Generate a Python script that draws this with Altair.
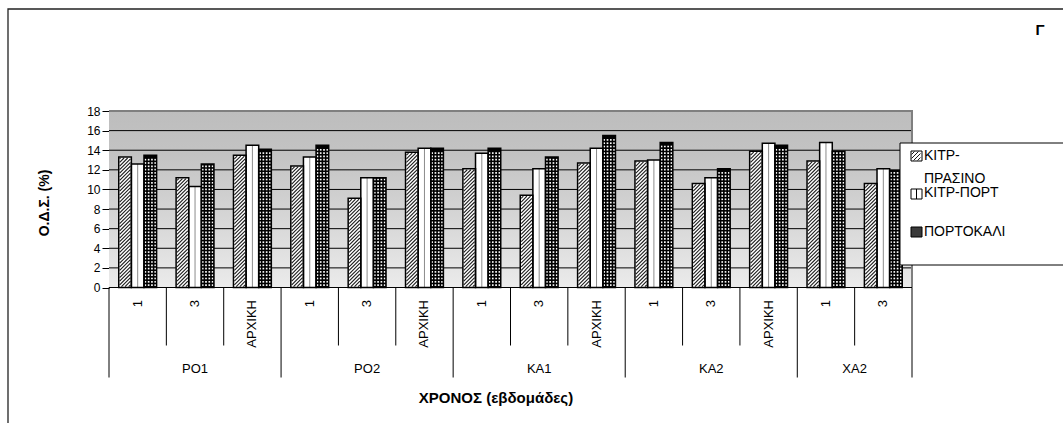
import altair as alt
import numpy as np
import pandas as pd

# ---------------- data ----------------
groups = ["ΡΟ1", "ΡΟ2", "ΚΑ1", "ΚΑ2", "ΧΑ2"]
weeks = [
    ["1", "3", "ΑΡΧΙΚΗ"],
    ["1", "3", "ΑΡΧΙΚΗ"],
    ["1", "3", "ΑΡΧΙΚΗ"],
    ["1", "3", "ΑΡΧΙΚΗ"],
    ["1", "3"],
]
series = ["ΚΙΤΡ-ΠΡΑΣΙΝΟ", "ΚΙΤΡ-ΠΟΡΤ", "ΠΟΡΤΟΚΑΛΙ"]
kitr_prasino = [13.3, 11.2, 13.5, 12.4, 9.1, 13.8, 12.1, 9.4, 12.7, 12.9, 10.6, 13.9, 12.9, 10.6]
kitr_port = [12.6, 10.3, 14.5, 13.3, 11.2, 14.2, 13.7, 12.1, 14.2, 13.0, 11.2, 14.7, 14.8, 12.1]
portokali = [13.5, 12.6, 14.1, 14.5, 11.2, 14.2, 14.2, 13.3, 15.5, 14.8, 12.1, 14.5, 13.9, 11.9]
y_ticks = [0, 2, 4, 6, 8, 10, 12, 14, 16, 18]
y_title = "Ο.Δ.Σ. (%)"
x_title = "ΧΡΟΝΟΣ (εβδομάδες)"
panel_tag = "Γ"

# ---------------- layout ----------------
W, H = 803, 176.5
PAD = {"left": 109, "top": 111, "right": 151, "bottom": 135.5}
N = sum(len(w) for w in weeks)
SX = W / N               # pixels per category slot
SY = H / max(y_ticks)    # pixels per y unit
BAR_W = 0.22             # bar width in slot units
FONT = "Liberation Sans"

x_scale = alt.Scale(domain=[0, N], nice=False, zero=False)
y_scale = alt.Scale(domain=[0, max(y_ticks)], nice=False)
y_axis = alt.Axis(
    values=y_ticks, grid=False, title=None,
    domainColor="#000000", domainWidth=1,
    tickColor="#000000", tickSize=7, tickWidth=1,
    labelPadding=2, labelFontSize=12, labelColor="#000000", labelFont=FONT,
)


def xq(field):
    return alt.X(field, type="quantitative", scale=x_scale, axis=None)


def yq(field):
    return alt.Y(field, type="quantitative", scale=y_scale, axis=y_axis)


# bars table
rows = []
for s, (name, vals) in enumerate(zip(series, [kitr_prasino, kitr_port, portokali])):
    for i, v in enumerate(vals):
        xa = i + 0.5 + (s - 1.5) * BAR_W
        rows.append({"series": name, "slot": i, "value": v,
                     "xa": xa, "xb": xa + BAR_W, "xc": xa + BAR_W / 2})
bars = pd.DataFrame(rows)


# diagonal hatching inside each bar of the first series
def hatch(xa, xb, v, step=3.6, inset=0.9):
    w = (xb - xa) * SX - 2 * inset
    h = v * SY - 2 * inset
    out = []
    c = -w + step / 2
    while c < h:
        xs, xe = max(0.0, -c), min(w, h - c)
        if xe > xs:
            out.append({
                "x1": xa + (inset + xs) / SX, "y1": (inset + xs + c) / SY,
                "x2": xa + (inset + xe) / SX, "y2": (inset + xe + c) / SY,
            })
        c += step
    return out


# small white cells of the checked pattern of the third series
def checker(xa, xb, v, step=3.3):
    w = (xb - xa) * SX
    h = v * SY
    ncol = int((w - 2.5) // step) + 1
    x0 = (w - (ncol - 1) * step) / 2
    out = []
    yy = 2.4
    while yy < h - 1.6:
        for k in range(ncol):
            out.append({"cx": xa + (x0 + k * step) / SX, "cy": yy / SY})
        yy += step
    return out


hatch_rows, cell_rows = [], []
for r in bars.itertuples():
    if r.series == series[0]:
        hatch_rows += hatch(r.xa, r.xb, r.value)
    elif r.series == series[2]:
        cell_rows += checker(r.xa, r.xb, r.value)
hatch_df = pd.DataFrame(hatch_rows)
cell_df = pd.DataFrame(cell_rows)

# category axis tables
cats = [t for ws in weeks for t in ws]
cat_df = pd.DataFrame({"x": np.arange(N) + 0.5, "label": cats})
bounds = np.cumsum([0] + [len(ws) for ws in weeks])
big_df = pd.DataFrame({"x": bounds})
small_df = pd.DataFrame({"x": [b for b in range(1, N) if b not in set(bounds)]})
grp_df = pd.DataFrame({"group": groups, "x": (bounds[:-1] + bounds[1:]) / 2})
grid_df = pd.DataFrame({"v": y_ticks})
one = pd.DataFrame({"k": [0]})

# ---------------- layers ----------------
plot_bg = alt.Chart(one).mark_rect(
    fill=alt.LinearGradient(
        gradient="linear", x1=0, y1=0, x2=0, y2=1,
        stops=[alt.GradientStop(offset=0, color="#bdbdbd"),
               alt.GradientStop(offset=0.25, color="#c3c3c3"),
               alt.GradientStop(offset=1, color="#ebebeb")],
    )
).encode(x=alt.value(0), x2=alt.value(W), y=alt.value(0), y2=alt.value(H))

grid = alt.Chart(grid_df).mark_rule(color="#000000", strokeWidth=1).encode(
    y=yq("v"), x=alt.value(0), x2=alt.value(W),
)

frame_top = alt.Chart(one).mark_rule(color="#7f7f7f", strokeWidth=2).encode(
    x=alt.value(0), x2=alt.value(W + 1), y=alt.value(0))
frame_right = alt.Chart(one).mark_rule(color="#7f7f7f", strokeWidth=2).encode(
    x=alt.value(W), y=alt.value(0), y2=alt.value(H))

bar_fill = alt.Chart(bars).mark_rect(strokeWidth=0).encode(
    x=xq("xa"), x2="xb", y=yq("value"), y2=alt.datum(0),
    fill=alt.Fill("series:N", scale=alt.Scale(domain=series, range=["#ffffff", "#ffffff", "#000000"]),
                  legend=None),
)

hatch_lines = alt.Chart(hatch_df).mark_rule(color="#1c1c1c", strokeWidth=1.1).encode(
    x=xq("x1"), y=yq("y1"), x2="x2", y2="y2")

mid_lines = alt.Chart(bars).transform_filter(
    alt.datum.series == series[1]
).mark_rule(color="#8c8c8c", strokeWidth=1).encode(
    x=xq("xc"), y=yq("value"), y2=alt.datum(0))

cells = alt.Chart(cell_df).mark_square(size=2.8, color="#ffffff", opacity=1, strokeWidth=0).encode(
    x=xq("cx"), y=yq("cy"))

bar_outline = alt.Chart(bars).mark_rect(fillOpacity=0, stroke="#000000", strokeWidth=1.5).encode(
    x=xq("xa"), x2="xb", y=yq("value"), y2=alt.datum(0))

baseline = alt.Chart(one).mark_rule(color="#000000", strokeWidth=1).encode(
    x=alt.value(0), x2=alt.value(W), y=alt.value(H))

big_sep = alt.Chart(big_df).mark_rule(color="#000000", strokeWidth=1).encode(
    x=xq("x"), y=alt.value(H), y2=alt.value(H + 90))
small_sep = alt.Chart(small_df).mark_rule(color="#000000", strokeWidth=1).encode(
    x=xq("x"), y=alt.value(H), y2=alt.value(H + 58))

cat_labels = alt.Chart(cat_df).mark_text(
    angle=270, align="right", baseline="middle", fontSize=13, font=FONT, color="#000000"
).encode(x=xq("x"), y=alt.value(H + 12.5), text="label:N")

grp_labels = alt.Chart(grp_df).mark_text(
    align="center", baseline="middle", fontSize=13, font=FONT, color="#000000"
).encode(x=xq("x"), y=alt.value(H + 81), text="group:N")

x_title_mark = alt.Chart(one).mark_text(
    text=x_title, align="center", baseline="middle", fontSize=15, fontWeight="bold",
    font=FONT, color="#000000"
).encode(x=alt.value(387), y=alt.value(H + 110))

y_title_mark = alt.Chart(one).mark_text(
    text=y_title, angle=270, align="center", baseline="middle", fontSize=14,
    fontWeight="bold", font=FONT, color="#000000"
).encode(x=alt.value(-64), y=alt.value(92))

tag_mark = alt.Chart(one).mark_text(
    text=panel_tag, align="center", baseline="middle", fontSize=15, fontWeight="bold",
    font=FONT, color="#000000"
).encode(x=alt.value(931), y=alt.value(-81))

# legend box with swatches
LX, LY = 791, 32
legend_box = alt.Chart(one).mark_rect(fill="#ffffff", stroke="#000000", strokeWidth=1).encode(
    x=alt.value(LX), x2=alt.value(LX + 200), y=alt.value(LY), y2=alt.value(LY + 122))

sw_x0, sw_x1 = LX + 11, LX + 22
sw_rows = [LY + 8, LY + 46, LY + 84]
sw_fill = ["#ffffff", "#ffffff", "#3a3a3a"]
swatches = alt.layer(*[
    alt.Chart(one).mark_rect(fill=f, stroke="#000000", strokeWidth=1).encode(
        x=alt.value(sw_x0), x2=alt.value(sw_x1), y=alt.value(y0), y2=alt.value(y0 + 10))
    for f, y0 in zip(sw_fill, sw_rows)
])
sw_hatch = alt.layer(*[
    alt.Chart(one).mark_rule(color="#1c1c1c", strokeWidth=1).encode(
        x=alt.value(sw_x0 + max(0, -d) + 0.5), y=alt.value(sw_rows[0] + 10 - max(0, d) - 0.5),
        x2=alt.value(sw_x1 - max(0, d) - 1.5), y2=alt.value(sw_rows[0] + max(0, -d) + 0.5))
    for d in [-6, -2, 2, 6]
])
sw_mid = alt.Chart(one).mark_rule(color="#000000", strokeWidth=1).encode(
    x=alt.value((sw_x0 + sw_x1) / 2), y=alt.value(sw_rows[1]), y2=alt.value(sw_rows[1] + 10))

leg_text_style = dict(align="left", baseline="alphabetic", fontSize=14, font=FONT, color="#000000")
leg_t1 = alt.Chart(one).mark_text(
    text=[series[0][:5], series[0][5:]], lineHeight=23, **leg_text_style
).encode(x=alt.value(LX + 24), y=alt.value(LY + 17))
leg_t2 = alt.Chart(one).mark_text(text=series[1], **leg_text_style).encode(
    x=alt.value(LX + 24), y=alt.value(LY + 54))
leg_t3 = alt.Chart(one).mark_text(text=series[2], **leg_text_style).encode(
    x=alt.value(LX + 24), y=alt.value(LY + 93))

outer_border = alt.Chart(one).mark_rect(fillOpacity=0, stroke="#222222", strokeWidth=1.3).encode(
    x=alt.value(-101), x2=alt.value(W + 170), y=alt.value(-102), y2=alt.value(H + 150))

chart = alt.layer(
    plot_bg, grid, frame_top, frame_right,
    bar_fill, hatch_lines, mid_lines, cells, bar_outline,
    baseline, big_sep, small_sep, cat_labels, grp_labels,
    x_title_mark, y_title_mark, tag_mark,
    legend_box, swatches, sw_hatch, sw_mid, leg_t1, leg_t2, leg_t3,
    outer_border,
).properties(
    width=W, height=H, padding=PAD,
    autosize=alt.AutoSizeParams(type="none"),
    background="#ffffff",
).configure_view(stroke="transparent")

chart.save("out.html", embed_options={"renderer": "svg", "actions": False})
